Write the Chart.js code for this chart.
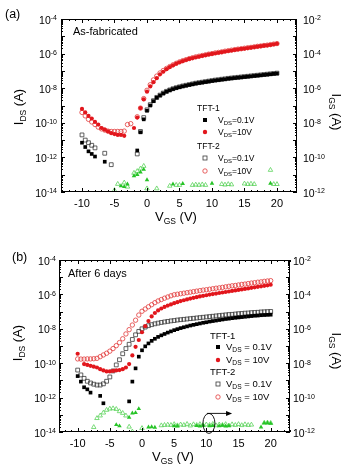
<!DOCTYPE html>
<html>
<head>
<meta charset="utf-8">
<script src="https://cdn.jsdelivr.net/npm/chart.js@4.4.1/dist/chart.umd.min.js"></script>
<style>
  html, body { margin: 0; padding: 0; background: #fff; }
  #wrap { position: relative; width: 350px; height: 473px; }
  canvas { position: absolute; left: 0; }
</style>
</head>
<body>
<div id="wrap">
  <canvas id="chartA" width="350" height="236" style="top:0"></canvas>
  <canvas id="chartB" width="350" height="237" style="top:236px"></canvas>
</div>
<script>
// Transfer curves of two TFTs, as fabricated (a) and after 6 days (b).
// Currents are stored as log10 exponents.

const FONT = '"Liberation Sans", Arial, Helvetica, sans-serif';

const vgs = [-10, -9.5, -9, -8.5, -8, -7.5, -7, -6.5, -6, -5.5,
  -5, -4.5, -4, -3.5, -3, -2.5, -2, -1.5, -1, -0.5,
  0, 0.5, 1, 1.5, 2, 2.5, 3, 3.5, 4, 4.5,
  5, 5.5, 6, 6.5, 7, 7.5, 8, 8.5, 9, 9.5,
  10, 10.5, 11, 11.5, 12, 12.5, 13, 13.5, 14, 14.5,
  15, 15.5, 16, 16.5, 17, 17.5, 18, 18.5, 19, 19.5,
  20];

const xTicks = [-10, -5, 0, 5, 10, 15, 20];
const idsTickExps = [-14, -12, -10, -8, -6, -4];
const igsTickExps = [-12, -10, -8, -6, -4, -2];

// ---- panel (a): as-fabricated ----
const aTft1Vd01 = [
  -11.15, -11.4, -11.65, -11.8, -11.95, null, null, -12.25, null, null,
  null, null, null, null, null, null, null, -11.6, -10.55, -9.8,
  -9.3, -9.0, -8.75, -8.55, -8.42, -8.3, -8.2, -8.12, -8.05, -7.99,
  -7.94, -7.89, -7.85, -7.81, -7.77, -7.73, -7.7, -7.67, -7.64, -7.61,
  -7.58, -7.55, -7.53, -7.5, -7.48, -7.45, -7.43, -7.41, -7.39, -7.37,
  -7.35, -7.33, -7.31, -7.29, -7.27, -7.25, -7.23, -7.21, -7.19, -7.17,
  -7.15];
const aTft1Vd10 = [
  -9.2, -9.4, -9.6, -9.75, -9.95, -10.1, -10.3, -10.4, -10.5, -10.6,
  -10.65, -10.7, -10.7, -10.75, null, null, -10.3, -9.7, -9.15, -8.65,
  -8.2, -7.9, -7.65, -7.42, -7.2, -7.05, -6.9, -6.78, -6.68, -6.58,
  -6.5, -6.43, -6.37, -6.31, -6.26, -6.21, -6.17, -6.13, -6.09, -6.05,
  -6.02, -5.98, -5.95, -5.92, -5.88, -5.85, -5.82, -5.79, -5.76, -5.73,
  -5.71, -5.68, -5.65, -5.62, -5.6, -5.57, -5.54, -5.52, -5.49, -5.46,
  -5.43];
const aTft2Vd01 = [
  -10.7, -11.0, -11.15, -11.3, -11.45, null, null, -11.76, null, -12.42,
  null, null, null, null, null, null, null, -11.8, -10.5, -9.7,
  -9.25, -8.95, -8.72, -8.53, -8.4, -8.28, -8.18, -8.1, -8.03, -7.97,
  -7.92, -7.87, -7.83, -7.79, -7.75, -7.71, -7.68, -7.65, -7.62, -7.59,
  -7.56, -7.53, -7.51, -7.48, -7.46, -7.43, -7.41, -7.39, -7.37, -7.35,
  -7.33, -7.31, -7.29, -7.27, -7.25, -7.23, -7.21, -7.19, -7.17, -7.15,
  -7.13];
const aTft2Vd10 = [
  -9.4, -9.6, -9.8, -9.95, -10.1, -10.25, -10.35, -10.42, -10.48, -10.5,
  -10.5, -10.5, -10.5, -10.48, -10.1, -10.05, null, -9.65, -9.15, -8.6,
  -8.12, -7.8, -7.52, -7.3, -7.12, -6.98, -6.86, -6.75, -6.65, -6.56,
  -6.48, -6.41, -6.35, -6.29, -6.24, -6.19, -6.15, -6.11, -6.07, -6.03,
  -6.0, -5.96, -5.93, -5.9, -5.86, -5.83, -5.8, -5.77, -5.74, -5.72,
  -5.69, -5.66, -5.64, -5.61, -5.58, -5.56, -5.53, -5.51, -5.48, -5.45,
  -5.42];
// gate leakage, right axis
const aTft1Igs = [
  null, null, null, null, null, null, null, null, null, null,
  null, null, -11.65, -11.69, -11.55, null, -11.07, -11.0, -10.85, -10.7,
  -11.3, null, null, null, null, null, null, null, -11.55, null,
  null, -11.52, null, null, null, null, null, null, null, null,
  -11.5, null, null, null, null, null, null, null, null, null,
  null, null, null, null, null, null, null, null, -11.5, null,
  null];
const aTft2Igs = [
  null, null, null, null, null, null, null, null, null, null,
  -11.9, -11.54, null, -11.46, -11.7, null, -10.9, -10.8, -10.65, -10.5,
  -11.8, null, null, -11.8, null, null, null, -11.65, null, -11.6,
  -11.6, null, null, null, -11.6, -11.58, -11.6, -11.57, -11.6, null,
  null, null, null, -11.55, -11.58, -11.55, -11.57, null, null, null,
  -11.52, -11.55, -11.53, -11.55, null, null, null, null, -10.73, -11.55,
  -11.55];

// ---- panel (b): after 6 days ----
const bTft1Vd01 = [
  -10.75, -11.07, -11.4, -11.52, -11.71, null, null, -11.9, -12.33, null,
  null, null, null, null, null, null, -12.22, -11.07, -10.3, -9.62,
  -9.25, -9.02, -8.85, -8.7, -8.58, -8.47, -8.38, -8.3, -8.22, -8.15,
  -8.08, -8.02, -7.96, -7.91, -7.86, -7.81, -7.77, -7.73, -7.69, -7.65,
  -7.62, -7.58, -7.55, -7.52, -7.49, -7.46, -7.43, -7.41, -7.38, -7.36,
  -7.34, -7.32, -7.3, -7.28, -7.26, -7.24, -7.23, -7.21, -7.2, -7.19,
  -7.18];
const bTft1Vd10 = [
  -9.45, null, -10.05, -10.1, -10.15, -10.2, -10.25, -10.35, -10.42, -10.48,
  -10.48, -10.45, -10.42, -10.4, -10.35, -10.25, -10.05, -9.55, -9.05, -8.65,
  -8.2, -7.85, -7.55, -7.28, -7.08, -6.93, -6.82, -6.73, -6.65, -6.58,
  -6.51, -6.45, -6.39, -6.34, -6.29, -6.24, -6.2, -6.16, -6.12, -6.08,
  -6.05, -6.01, -5.98, -5.95, -5.92, -5.89, -5.86, -5.83, -5.8, -5.77,
  -5.74, -5.71, -5.68, -5.65, -5.62, -5.59, -5.56, -5.53, -5.5, -5.47,
  -5.44];
const bTft2Vd01 = [
  -10.4, -10.68, -10.88, -11.05, -11.15, -11.22, -11.27, -11.27, -11.2, -11.05,
  -10.8, -10.45, -10.1, -9.8, -9.45, -9.15, -8.9, -8.62, -8.35, -8.15,
  -8.0, -7.9, -7.82, -7.76, -7.71, -7.67, -7.63, -7.6, -7.57, -7.54,
  -7.52, -7.49, -7.47, -7.45, -7.43, -7.41, -7.39, -7.37, -7.35, -7.33,
  -7.31, -7.29, -7.27, -7.25, -7.23, -7.21, -7.19, -7.17, -7.16, -7.14,
  -7.12, -7.11, -7.09, -7.08, -7.06, -7.05, -7.04, -7.02, -7.01, -7.0,
  -6.99];
const bTft2Vd10 = [
  -9.75, -9.76, -9.76, -9.75, -9.75, -9.74, -9.72, -9.62, -9.52, -9.42,
  -9.3, -9.15, -8.98, -8.8, -8.58, -8.3, -8.05, -7.78, -7.5, -7.2,
  -6.98, -6.85, -6.72, -6.6, -6.48, -6.38, -6.3, -6.22, -6.15, -6.08,
  -6.02, -5.99, -5.96, -5.93, -5.9, -5.87, -5.84, -5.81, -5.78, -5.75,
  -5.73, -5.7, -5.67, -5.64, -5.62, -5.59, -5.56, -5.53, -5.5, -5.48,
  -5.45, -5.42, -5.4, -5.37, -5.34, -5.32, -5.29, -5.27, -5.24, -5.22,
  -5.2];
const bTft1Igs = [
  null, null, null, null, null, null, null, null, null, null,
  null, null, -11.58, -11.65, null, null, -11.15, -10.9, -10.88, -10.65,
  null, null, -11.72, -11.7, -11.73, null, null, null, null, null,
  -11.65, -11.66, null, null, null, null, null, -11.64, -11.66, -11.62,
  null, -11.65, -11.63, null, -11.65, -11.62, -11.66, -11.64, null, null,
  null, null, null, null, null, null, null, -11.72, -11.48, -11.47,
  -11.5];
const bTft2Igs = [
  null, null, null, null, null, -11.72, -11.2, -11.05, -10.88, -10.72,
  -10.65, -10.63, -10.67, -10.8, -10.9, -11.05, -11.7, -11.98, null, null,
  -11.78, null, null, null, null, null, -11.62, -11.6, -11.58, -11.6,
  -11.55, -11.62, -11.57, -11.6, -11.54, -11.63, -11.56, -11.6, -11.55, -11.61,
  -11.57, -11.6, -11.54, -11.62, -11.57, -11.6, -11.55, -11.63, -11.56, -11.6,
  -11.55, -11.61, -11.56, -11.6, -11.58, null, null, null, -11.47, -11.46,
  -11.48];

const RED = '#e2161c';
const GREEN = '#27c427';
const GREEN_OPEN = '#5bd35b';

function toPoints(exps) {
  const pts = [];
  exps.forEach((e, i) => {
    if (e !== null) pts.push({ x: vgs[i], y: Math.pow(10, e) });
  });
  return pts;
}

function makeDatasets(s) {
  const open = { pointBackgroundColor: 'rgba(0,0,0,0)', pointBorderWidth: 0.8 };
  return [
    { label: 'TFT-1 VDS=0.1V', data: toPoints(s.t1lo), yAxisID: 'y', pointStyle: 'rect',
      pointRadius: 2.6, pointBackgroundColor: '#000', pointBorderColor: '#000', pointBorderWidth: 0 },
    { label: 'TFT-1 VDS=10V', data: toPoints(s.t1hi), yAxisID: 'y', pointStyle: 'circle',
      pointRadius: 2.1, pointBackgroundColor: RED, pointBorderColor: RED, pointBorderWidth: 0 },
    Object.assign({ label: 'TFT-2 VDS=0.1V', data: toPoints(s.t2lo), yAxisID: 'y', pointStyle: 'rect',
      pointRadius: 2.7, pointBorderColor: '#3a3a3a' }, open),
    Object.assign({ label: 'TFT-2 VDS=10V', data: toPoints(s.t2hi), yAxisID: 'y', pointStyle: 'circle',
      pointRadius: 2.2, pointBorderColor: '#e23a3a' }, open),
    { label: 'TFT-1 IGS', data: toPoints(s.g1), yAxisID: 'y1', pointStyle: 'triangle',
      pointRadius: 2.6, pointBackgroundColor: GREEN, pointBorderColor: GREEN, pointBorderWidth: 0 },
    Object.assign({ label: 'TFT-2 IGS', data: toPoints(s.g2), yAxisID: 'y1', pointStyle: 'triangle',
      pointRadius: 2.6, pointBorderColor: GREEN_OPEN }, open)
  ];
}

// plot-box geometry and decorations for each panel
const panelDecor = {
  chartA: {
    tag: '(a)', tagX: 5, tagY: 18, note: 'As-fabricated', noteX: 73, noteY: 35,
    leftGap: 4, rightGap: 6,
    leftTitle: { x: 23, y: 107 }, rightTitle: { x: 332, y: 112 }, xTitle: { x: 176, y: 221 },
    legend: { mx: 205, tx: 218, font: 8.5, spaced: false, rows: [108, 120, 132, 146, 158, 171] },
    ellipse: null
  },
  chartB: {
    tag: '(b)', tagX: 12, tagY: 25, note: 'After 6 days', noteX: 68, noteY: 41,
    leftGap: 3, rightGap: 3,
    leftTitle: { x: 22, y: 107 }, rightTitle: { x: 332, y: 115 }, xTitle: { x: 173, y: 225 },
    legend: { mx: 218, tx: 226, font: 9.5, spaced: true, rows: [100, 111, 124, 136, 148, 161] },
    ellipse: { v: 10.4, e: -11.5, rx: 6, ry: 10, arrowTo: 14 }
  }
};

function drawRich(ctx, parts, x, y, align) {
  let total = 0;
  parts.forEach(p => { ctx.font = p.size + 'px ' + FONT; p.w = ctx.measureText(p.t).width; total += p.w; });
  let cx = align === 'center' ? x - total / 2 : (align === 'right' ? x - total : x);
  ctx.textAlign = 'left';
  ctx.textBaseline = 'alphabetic';
  parts.forEach(p => {
    ctx.font = p.size + 'px ' + FONT;
    ctx.fillText(p.t, cx, y + (p.dy || 0));
    cx += p.w;
  });
}

function powParts(e) {
  return [{ t: '10', size: 10.5 }, { t: String(e), size: 7, dy: -3.2 }];
}

function drawMarker(ctx, kind, x, y) {
  ctx.save();
  ctx.lineWidth = 0.8;
  if (kind === 'sqFill') { ctx.fillStyle = '#000'; ctx.fillRect(x - 2, y - 2, 4, 4); }
  if (kind === 'sqOpen') { ctx.strokeStyle = '#3a3a3a'; ctx.strokeRect(x - 2, y - 2, 4, 4); }
  if (kind === 'ciFill') { ctx.fillStyle = RED; ctx.beginPath(); ctx.arc(x, y, 2.2, 0, Math.PI * 2); ctx.fill(); }
  if (kind === 'ciOpen') { ctx.strokeStyle = '#e23a3a'; ctx.beginPath(); ctx.arc(x, y, 2.2, 0, Math.PI * 2); ctx.stroke(); }
  ctx.restore();
}

const decorPlugin = {
  id: 'decor',
  afterDraw(chart) {
    const d = panelDecor[chart.canvas.id];
    const { ctx, chartArea: a, scales } = chart;
    ctx.save();
    ctx.strokeStyle = '#000';
    ctx.fillStyle = '#000';
    ctx.lineWidth = 1;
    ctx.strokeRect(a.left + 0.5, a.top + 0.5, a.right - a.left - 1, a.bottom - a.top - 1);

    const seg = (x1, y1, x2, y2) => { ctx.beginPath(); ctx.moveTo(x1, y1); ctx.lineTo(x2, y2); ctx.stroke(); };

    // inward ticks on all four sides
    for (let v = Math.ceil(scales.x.min); v <= scales.x.max; v++) {
      const px = Math.round(scales.x.getPixelForValue(v)) + 0.5;
      const len = v % 5 === 0 ? 4 : 2;
      seg(px, a.bottom, px, a.bottom - len);
      seg(px, a.top, px, a.top + len);
    }
    for (let e = -14; e <= -4; e++) {
      for (let m = 1; m < 10; m++) {
        if (e === -4 && m > 1) break;
        const py = Math.round(scales.y.getPixelForValue(m * Math.pow(10, e))) + 0.5;
        const len = m === 1 ? 4 : 2;
        seg(a.left, py, a.left + len, py);
        seg(a.right, py, a.right - len, py);
      }
    }

    // tick labels, powers of ten
    idsTickExps.forEach(e => {
      const py = scales.y.getPixelForValue(Math.pow(10, e));
      drawRich(ctx, powParts(e), a.left - d.leftGap, py + 4.5, 'right');
    });
    igsTickExps.forEach(e => {
      const py = scales.y1.getPixelForValue(Math.pow(10, e));
      drawRich(ctx, powParts(e), a.right + d.rightGap, py + 4.5, 'left');
    });

    // axis titles
    const big = 13, small = 8.5;
    ctx.save();
    ctx.translate(d.leftTitle.x, d.leftTitle.y);
    ctx.rotate(-Math.PI / 2);
    drawRich(ctx, [{ t: 'I', size: big }, { t: 'DS', size: small, dy: 3 }, { t: ' (A)', size: big }], 0, 0, 'center');
    ctx.restore();
    ctx.save();
    ctx.translate(d.rightTitle.x, d.rightTitle.y);
    ctx.rotate(Math.PI / 2);
    drawRich(ctx, [{ t: 'I', size: big }, { t: 'GS', size: small, dy: 3 }, { t: ' (A)', size: big }], 0, 0, 'center');
    ctx.restore();
    drawRich(ctx, [{ t: 'V', size: big }, { t: 'GS', size: small, dy: 3 }, { t: ' (V)', size: big }], d.xTitle.x, d.xTitle.y, 'center');

    // panel tag and note
    ctx.font = '12.5px ' + FONT;
    ctx.textAlign = 'left';
    ctx.fillText(d.tag, d.tagX, d.tagY);
    ctx.font = '11px ' + FONT;
    ctx.fillText(d.note, d.noteX, d.noteY);

    // legend
    const L = d.legend;
    const eq = L.spaced ? ' = ' : '=';
    const sub = L.font * 0.7;
    const rows = [
      { t: 'TFT-1' }, { m: 'sqFill', v: '0.1V' }, { m: 'ciFill', v: '10V' },
      { t: 'TFT-2' }, { m: 'sqOpen', v: '0.1V' }, { m: 'ciOpen', v: '10V' }
    ];
    rows.forEach((r, i) => {
      const y = L.rows[i];
      if (r.t) {
        drawRich(ctx, [{ t: r.t, size: L.font }], L.mx - 8, y + 3, 'left');
      } else {
        drawMarker(ctx, r.m, L.mx, y);
        drawRich(ctx, [{ t: 'V', size: L.font }, { t: 'DS', size: sub, dy: 2 }, { t: eq + r.v, size: L.font }], L.tx, y + 3, 'left');
      }
    });

    // ellipse marking the gate-current points, arrow pointing to the right axis
    if (d.ellipse) {
      const E = d.ellipse;
      const cx = scales.x.getPixelForValue(E.v);
      const cy = scales.y1.getPixelForValue(Math.pow(10, E.e));
      ctx.lineWidth = 0.9;
      ctx.beginPath();
      ctx.ellipse(cx, cy, E.rx, E.ry, 0, 0, Math.PI * 2);
      ctx.stroke();
      const ax = scales.x.getPixelForValue(E.arrowTo);
      const ay = cy - E.ry;
      seg(cx - 2, ay, ax - 4, ay);
      ctx.beginPath();
      ctx.moveTo(ax, ay);
      ctx.lineTo(ax - 6, ay - 2.5);
      ctx.lineTo(ax - 6, ay + 2.5);
      ctx.closePath();
      ctx.fill();
    }
    ctx.restore();
  }
};

function buildChart(id, sets, geo) {
  const ctx = document.getElementById(id).getContext('2d');
  return new Chart(ctx, {
    type: 'scatter',
    data: { datasets: makeDatasets(sets) },
    plugins: [decorPlugin],
    options: {
      responsive: false,
      animation: false,
      devicePixelRatio: 1,
      layout: { padding: { top: geo.top, left: 0, right: 0, bottom: 0 } },
      plugins: { legend: { display: false }, tooltip: { enabled: false } },
      scales: {
        x: {
          type: 'linear', position: 'bottom', min: geo.xMin, max: geo.xMax,
          afterBuildTicks: ax => { ax.ticks = xTicks.map(v => ({ value: v })); },
          afterFit: ax => { ax.height = geo.xHeight; },
          grid: { display: false, drawTicks: false },
          border: { display: false },
          ticks: { font: { family: FONT, size: 11 }, color: '#000', padding: 5,
                   maxRotation: 0, autoSkip: false, callback: v => String(v) }
        },
        y: {
          type: 'logarithmic', position: 'left', min: 1e-14, max: 1e-4,
          afterFit: ax => { ax.width = geo.left; },
          ticks: { display: false }, grid: { display: false }, border: { display: false }
        },
        y1: {
          type: 'logarithmic', position: 'right', min: 1e-12, max: 1e-2,
          afterFit: ax => { ax.width = geo.right; },
          ticks: { display: false }, grid: { display: false }, border: { display: false }
        }
      }
    }
  });
}

buildChart('chartA',
  { t1lo: aTft1Vd01, t1hi: aTft1Vd10, t2lo: aTft2Vd01, t2hi: aTft2Vd10, g1: aTft1Igs, g2: aTft2Igs },
  { top: 19, xHeight: 44, left: 61, right: 53, xMin: -13.23, xMax: 23.08 });
buildChart('chartB',
  { t1lo: bTft1Vd01, t1hi: bTft1Vd10, t2lo: bTft2Vd01, t2hi: bTft2Vd10, g1: bTft1Igs, g2: bTft2Igs },
  { top: 24, xHeight: 41, left: 59, right: 60, xMin: -12.9, xMax: 23.0 });
</script>
</body>
</html>
